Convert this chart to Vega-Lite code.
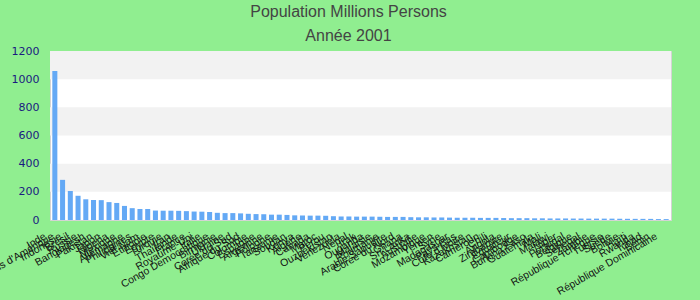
{
  "$schema": "https://vega.github.io/schema/vega-lite/v6.json",
  "width": 621,
  "height": 169,
  "autosize": "none",
  "padding": {"left": 50, "top": 51, "right": 29, "bottom": 80},
  "background": "#90EE90",
  "title": {
    "text": "Population Millions Persons",
    "subtitle": "Année 2001",
    "anchor": "middle",
    "dx": -12,
    "offset": 1,
    "font": "Liberation Sans",
    "fontSize": 16,
    "fontWeight": "normal",
    "color": "#444444",
    "subtitleFont": "Liberation Sans",
    "subtitleFontSize": 16,
    "subtitleColor": "#444444",
    "subtitlePadding": 8
  },
  "config": {
    "view": {"stroke": "#d4d4d4", "strokeWidth": 1, "fill": "white"},
    "axisY": {
      "labelFont": "DejaVu Sans",
      "labelFontSize": 11,
      "labelColor": "#1a1a80",
      "ticks": false,
      "domain": false,
      "grid": false,
      "labelPadding": 11,
      "format": "d",
      "values": [0, 200, 400, 600, 800, 1000, 1200],
      "title": null
    }
  },
  "datasets": {
    "bands": [
      {"lo": 200, "hi": 400},
      {"lo": 600, "hi": 800},
      {"lo": 1000, "hi": 1200}
    ],
    "pop": [
      {"pays": "Inde", "valeur": 1058},
      {"pays": "États-Unis d'Amérique", "valeur": 285},
      {"pays": "Indonésie", "valeur": 206},
      {"pays": "Brésil", "valeur": 172},
      {"pays": "Russie", "valeur": 147},
      {"pays": "Bangladesh", "valeur": 142},
      {"pays": "Pakistan", "valeur": 141},
      {"pays": "Japon", "valeur": 127},
      {"pays": "Nigeria", "valeur": 121},
      {"pays": "Mexique", "valeur": 100},
      {"pays": "Allemagne", "valeur": 84},
      {"pays": "Philippines", "valeur": 78},
      {"pays": "Viet Nam", "valeur": 78},
      {"pays": "Éthiopie", "valeur": 67},
      {"pays": "Égypte", "valeur": 66},
      {"pays": "Turquie", "valeur": 66},
      {"pays": "Iran", "valeur": 65},
      {"pays": "Thaïlande", "valeur": 63},
      {"pays": "France", "valeur": 60},
      {"pays": "Royaume-Uni", "valeur": 59},
      {"pays": "Italie", "valeur": 57},
      {"pays": "Congo Democratique", "valeur": 51},
      {"pays": "Birmanie", "valeur": 49},
      {"pays": "Ukraine", "valeur": 49},
      {"pays": "Corée du Sud", "valeur": 47},
      {"pays": "Afrique du Sud", "valeur": 44},
      {"pays": "Colombie", "valeur": 42},
      {"pays": "Espagne", "valeur": 41},
      {"pays": "Argentine", "valeur": 38},
      {"pays": "Pologne", "valeur": 38},
      {"pays": "Tanzanie", "valeur": 36},
      {"pays": "Soudan", "valeur": 33},
      {"pays": "Kenya", "valeur": 32},
      {"pays": "Algérie", "valeur": 31},
      {"pays": "Canada", "valeur": 31},
      {"pays": "Maroc", "valeur": 30},
      {"pays": "Pérou", "valeur": 27},
      {"pays": "Ouzbékistan", "valeur": 25},
      {"pays": "Venezuela", "valeur": 25},
      {"pays": "Népal", "valeur": 24},
      {"pays": "Irak", "valeur": 24},
      {"pays": "Ouganda", "valeur": 24},
      {"pays": "Malaisie", "valeur": 23},
      {"pays": "Roumanie", "valeur": 22},
      {"pays": "Arabie Saoudite", "valeur": 22},
      {"pays": "Corée du Nord", "valeur": 22},
      {"pays": "Ghana", "valeur": 20},
      {"pays": "Sri Lanka", "valeur": 19},
      {"pays": "Australie", "valeur": 19},
      {"pays": "Mozambique", "valeur": 18},
      {"pays": "Yémen", "valeur": 18},
      {"pays": "Syrie", "valeur": 17},
      {"pays": "Madagascar", "valeur": 16},
      {"pays": "Pays-Bas", "valeur": 16},
      {"pays": "Côte d'Ivoire", "valeur": 16},
      {"pays": "Kazakhstan", "valeur": 15},
      {"pays": "Cameroun", "valeur": 15},
      {"pays": "Chili", "valeur": 15},
      {"pays": "Angola", "valeur": 14},
      {"pays": "Zimbabwe", "valeur": 13},
      {"pays": "Équateur", "valeur": 13},
      {"pays": "Cambodge", "valeur": 13},
      {"pays": "Burkina Faso", "valeur": 12},
      {"pays": "Guatemala", "valeur": 12},
      {"pays": "Mali", "valeur": 11},
      {"pays": "Malawi", "valeur": 11},
      {"pays": "Niger", "valeur": 11},
      {"pays": "Portugal", "valeur": 10.3},
      {"pays": "Belgique", "valeur": 10.3},
      {"pays": "Sénégal", "valeur": 9.8},
      {"pays": "Zambie", "valeur": 9.8},
      {"pays": "République Tchèque", "valeur": 9.7},
      {"pays": "Tunisie", "valeur": 9.6},
      {"pays": "Suède", "valeur": 8.9},
      {"pays": "Bolivie", "valeur": 8.5},
      {"pays": "Haïti", "valeur": 8.2},
      {"pays": "Rwanda", "valeur": 8.0},
      {"pays": "Tchad", "valeur": 7.9},
      {"pays": "Bénin", "valeur": 6.5},
      {"pays": "République Dominicaine", "valeur": 6.4}
    ]
  },
  "layer": [
    {
      "data": {"name": "bands"},
      "mark": {"type": "rect", "color": "#f2f2f2"},
      "encoding": {
        "y": {"field": "lo", "type": "quantitative", "scale": {"domain": [0, 1200], "nice": false}, "title": null},
        "y2": {"field": "hi"}
      }
    },
    {
      "data": {"name": "pop"},
      "mark": {"type": "bar", "color": "#64a9f5"},
      "encoding": {
        "x": {
          "field": "pays",
          "type": "nominal",
          "sort": null,
          "scale": {"paddingInner": 0.35, "paddingOuter": 0.3},
          "axis": {
            "title": null,
            "labelAngle": -30,
            "labelFont": "Liberation Sans",
            "labelFontSize": 10.5,
            "labelColor": "#111111",
            "ticks": false,
            "domain": false,
            "labelOverlap": false,
            "labelPadding": 11,
            "labelOffset": -12,
            "labelLimit": 0
          }
        },
        "y": {"field": "valeur", "type": "quantitative", "title": null}
      }
    }
  ]
}
